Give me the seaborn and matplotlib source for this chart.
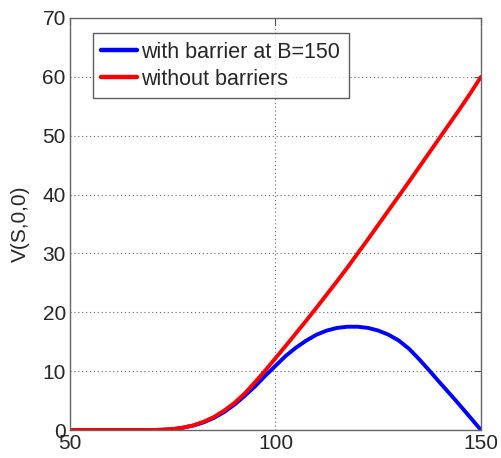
import matplotlib
matplotlib.use("Agg")
import matplotlib.pyplot as plt
import seaborn as sns
import pandas as pd

S = [50, 52.5, 55, 57.5, 60, 62.5, 65, 67.5, 70, 72.5, 75, 77.5, 80, 82.5, 85, 87.5,
     90, 92.5, 95, 97.5, 100, 102.5, 105, 107.5, 110, 112.5, 115, 117.5, 120, 122.5,
     125, 127.5, 130, 132.5, 135, 137.5, 140, 142.5, 145, 147.5, 150]
v_barrier = [0, 0, 0, 0, 0, 0, 0, 0, 0, 0.05, 0.15, 0.4, 0.75, 1.3, 2.05, 3.05,
             4.3, 5.8, 7.4, 9.2, 10.9, 12.6, 14.0, 15.2, 16.2, 16.9, 17.35, 17.55, 17.55, 17.35,
             16.9, 16.2, 15.2, 13.8, 12.0, 10.05, 8.05, 6.1, 4.1, 2.05, 0]
v_plain = [0, 0, 0, 0, 0, 0, 0, 0, 0, 0.05, 0.15, 0.4, 0.8, 1.4, 2.2, 3.3,
           4.6, 6.2, 8.1, 10.1, 12.2, 14.3, 16.45, 18.6, 20.8, 23.05, 25.3, 27.6, 30.0, 32.4,
           34.85, 37.3, 39.75, 42.2, 44.7, 47.2, 49.7, 52.2, 54.7, 57.3, 60.0]
labels = ["with barrier at B=150", "without barriers"]
xticks = [50, 100, 150]
yticks = [0, 10, 20, 30, 40, 50, 60, 70]

df = pd.DataFrame({
    "S": S + S,
    "V": v_barrier + v_plain,
    "series": [labels[0]] * len(S) + [labels[1]] * len(S),
})

sns.set_style("white")
plt.rcParams["font.family"] = ["Liberation Sans", "DejaVu Sans"]

fig = plt.figure(figsize=(5.01, 4.58), dpi=100)
ax = fig.add_axes([0.1397, 0.0611, 0.8203, 0.8996])

sns.lineplot(data=df, x="S", y="V", hue="series", hue_order=labels,
             palette=["#0000ff", "#ff0000"], linewidth=2.8, ax=ax, legend=True)

ax.set_xlim(50, 150)
ax.set_ylim(0, 70)
ax.set_xticks(xticks)
ax.set_yticks(yticks)
ax.set_xlabel("")
ax.set_ylabel("V(S,0,0)", fontsize=15, labelpad=9)
ax.tick_params(axis="both", labelsize=15, direction="in", length=5, width=0.8,
               color="#555555", pad=3, top=True, right=True)
ax.grid(True, linestyle=(0, (1, 2.5)), color="#666666", linewidth=0.8)
for sp in ax.spines.values():
    sp.set_color("#666666")
    sp.set_linewidth(1.0)

leg = ax.legend(loc="upper left", bbox_to_anchor=(0.055, 0.963), fontsize=15.5,
                frameon=True, fancybox=False, handlelength=1.65, handletextpad=0.2,
                borderpad=0.4, labelspacing=0.28, borderaxespad=0)
leg.get_frame().set_edgecolor("#333333")
leg.get_frame().set_linewidth(1.0)
for h in leg.get_lines():
    h.set_linewidth(3.2)

fig.savefig("out.png", dpi=100)
